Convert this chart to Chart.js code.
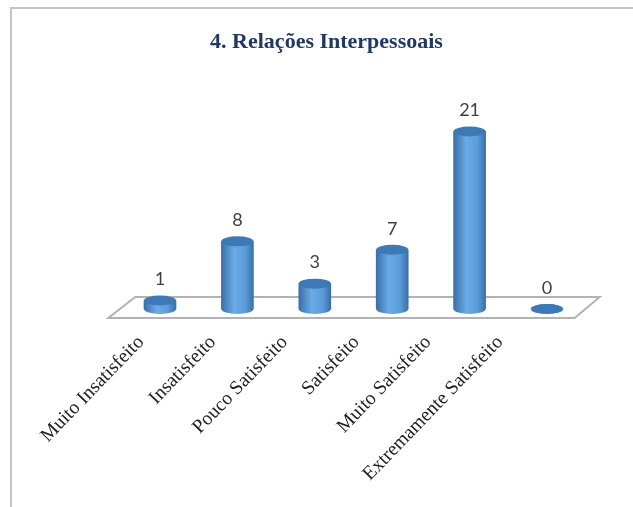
<!DOCTYPE html>
<html>
<head>
<meta charset="utf-8">
<script src="https://cdn.jsdelivr.net/npm/chart.js@4.4.0/dist/chart.umd.min.js"></script>
<style>
  html, body { margin: 0; padding: 0; background: #ffffff; }
  #wrap { width: 633px; height: 507px; position: relative; }
</style>
</head>
<body>
<div id="wrap"><canvas id="chart" width="633" height="507"></canvas></div>
<script>
// Chart data
const categories = ["Muito Insatisfeito", "Insatisfeito", "Pouco Satisfeito", "Satisfeito", "Muito Satisfeito", "Extremamente Satisfeito"]
const values = [1, 8, 3, 7, 21, 0]
const titleText = "4. Relações Interpessoais"
const valueMax = 25

// Cylinder colours
const barDark = "#3a6fa9"
const barLight = "#6aabe6"
const barTop = "#3f78b6"

// Build horizontal gradient for one cylinder
function cylinderGradient(ctx, x, half) {
  const g = ctx.createLinearGradient(x - half, 0, x + half, 0)
  g.addColorStop(0, barDark)
  g.addColorStop(0.4, barLight)
  g.addColorStop(0.75, "#5b9bd8")
  g.addColorStop(1, barDark)
  return g
}

function ellipse(ctx, x, y, rx, ry, fill) {
  ctx.beginPath()
  ctx.ellipse(x, y, rx, ry, 0, 0, Math.PI * 2)
  ctx.fillStyle = fill
  ctx.fill()
}

// Frame, floor, cylinder caps and value labels
const cylinderPlugin = {
  id: "cylinder",
  beforeDraw(chart) {
    const ctx = chart.ctx
    ctx.save()
    ctx.strokeStyle = "#c4c4c4"
    ctx.lineWidth = 2
    ctx.beginPath()
    ctx.moveTo(11, chart.height)
    ctx.lineTo(11, 8)
    ctx.lineTo(chart.width, 8)
    ctx.stroke()
    ctx.restore()
  },
  beforeDatasetsDraw(chart) {
    const ctx = chart.ctx
    const area = chart.chartArea
    const base = chart.scales.y.getPixelForValue(0)
    ctx.save()
    ctx.beginPath()
    ctx.moveTo(area.left + 14, base - 12)
    ctx.lineTo(area.right + 14, base - 12)
    ctx.lineTo(area.right - 11, base + 9)
    ctx.lineTo(area.left - 13, base + 9)
    ctx.closePath()
    ctx.fillStyle = "#ffffff"
    ctx.fill()
    ctx.strokeStyle = "#b3b3b3"
    ctx.lineWidth = 2
    ctx.stroke()
    ctx.restore()
  },
  afterDatasetsDraw(chart) {
    const ctx = chart.ctx
    const meta = chart.getDatasetMeta(0)
    ctx.save()
    meta.data.forEach((bar, i) => {
      const half = bar.width / 2
      // rounded bottom, then the top cap
      ellipse(ctx, bar.x, bar.base, half, 5, cylinderGradient(ctx, bar.x, half))
      ellipse(ctx, bar.x, bar.y, half, 5, barTop)
      ctx.fillStyle = "#404040"
      ctx.font = "18px Lato"
      ctx.textAlign = "center"
      ctx.textBaseline = "middle"
      ctx.fillText(String(values[i]), bar.x, bar.y - 21)
    })
    ctx.restore()
  },
}

const ctx = document.getElementById("chart")

new Chart(ctx, {
  type: "bar",
  data: {
    labels: categories,
    datasets: [
      {
        data: values,
        barThickness: 32,
        borderWidth: 0,
        backgroundColor: (c) => {
          const scale = c.chart.scales.x
          if (c.dataIndex === undefined || !scale) return "#5b9bd5"
          const x = scale.getPixelForValue(c.dataIndex)
          if (!Number.isFinite(x)) return "#5b9bd5"
          return cylinderGradient(c.chart.ctx, x, 16)
        },
      },
    ],
  },
  options: {
    responsive: false,
    animation: false,
    layout: {
      padding: { left: 20, right: 0, top: 0, bottom: 0 },
    },
    plugins: {
      legend: { display: false },
      tooltip: { enabled: false },
      title: {
        display: true,
        text: titleText,
        color: "#1f3864",
        font: { family: "'Liberation Serif'", size: 22, weight: "bold" },
        padding: { top: 28.8, bottom: 42.4 },
      },
    },
    scales: {
      x: {
        display: false,
      },
      // label axis: slightly tighter spacing than the bars (3D perspective)
      xl: {
        type: "linear",
        position: "bottom",
        offset: false,
        min: -0.274,
        max: 6.194,
        grid: { display: false, drawTicks: false },
        border: { display: false },
        afterBuildTicks: (scale) => {
          scale.ticks = categories.map((c, i) => ({ value: i }))
        },
        afterFit: (scale) => {
          scale.height = 198
        },
        ticks: {
          autoSkip: false,
          minRotation: 46,
          maxRotation: 46,
          padding: 22,
          color: "#222222",
          font: { family: "'Liberation Serif'", size: 19.5 },
          callback: (value, index) => categories[index],
        },
      },
      y: {
        min: 0,
        max: valueMax,
        grid: { display: false },
        border: { display: false },
        ticks: { display: false },
        afterFit: (scale) => {
          scale.width = 101.3
        },
      },
      yr: {
        position: "right",
        min: 0,
        max: valueMax,
        grid: { display: false },
        border: { display: false },
        ticks: { display: false },
        afterFit: (scale) => {
          scale.width = 47.3
        },
      },
    },
  },
  plugins: [cylinderPlugin],
})
</script>
</body>
</html>
